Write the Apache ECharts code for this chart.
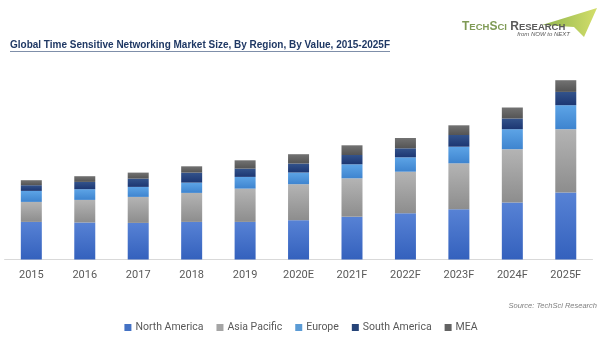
<!DOCTYPE html>
<html>
<head>
<meta charset="utf-8">
<script src="https://cdn.jsdelivr.net/npm/echarts@6/dist/echarts.min.js"></script>
<style>
html,body{margin:0;padding:0;background:#fff;}
#chart{width:602px;height:338px;}
</style>
</head>
<body>
<div id="chart"></div>
<script>
// Categories
var years = ['2015','2016','2017','2018','2019','2020E','2021F','2022F','2023F','2024F','2025F'];
// Series values (relative market size)
var northAmerica = [37.6, 37.0, 36.6, 37.6, 37.6, 39.3, 42.8, 46.2, 50.2, 57.0, 67.0];
var asiaPacific  = [20.0, 22.6, 26.0, 29.0, 33.3, 36.0, 38.4, 41.6, 46.0, 53.3, 63.3];
var europe       = [11.0, 10.7, 10.0, 10.3, 11.7, 11.7, 14.0, 14.4, 16.6, 20.0, 24.0];
var southAmerica = [5.7, 7.3, 8.3, 10.0, 8.3, 9.0, 9.3, 9.0, 11.7, 10.7, 13.3];
var mea          = [5.0, 5.7, 6.0, 6.3, 8.3, 9.3, 9.7, 10.3, 9.7, 11.0, 11.7];
var seriesNames = ['North America','Asia Pacific','Europe','South America','MEA'];
var titleText = 'Global Time Sensitive Networking Market Size, By Region, By Value, 2015-2025F';
var sourceText = 'Source: TechSci Research';

function grad(top, bottom){
  return new echarts.graphic.LinearGradient(0,0,0,1,[{offset:0,color:top},{offset:1,color:bottom}]);
}
// title: render at 10.5px and squeeze horizontally to the target width
var titleFont = 'Liberation Sans';
var titleSize = 10.5;
var cv = document.createElement('canvas').getContext('2d');
cv.font = 'bold ' + titleSize + 'px "' + titleFont + '"';
var titleScaleX = 380 / cv.measureText(titleText).width;

var solid = ['#4472c4','#a5a5a5','#5b9bd5','#264478','#636363'];
var fills = [grad('#5782d5','#3461bd'), grad('#b4b4b4','#8d8d8d'), grad('#5da4e6','#3e84cf'),
             grad('#33538b','#1c3672'), grad('#727272','#545454')];
var dataSets = [northAmerica, asiaPacific, europe, southAmerica, mea];

var chart = echarts.init(document.getElementById('chart'), null, {renderer:'canvas'});
var series = seriesNames.map(function(n,i){
  return {
    name:n, type:'bar', stack:'total', barWidth:21,
    itemStyle:{color:fills[i]},
    emphasis:{disabled:true},
    data:dataSets[i]
  };
});
chart.setOption({
  animation:false,
  backgroundColor:'#ffffff',
  grid:{left:4.6, right:9.5, top:79.5, bottom:78.5, containLabel:false},
  xAxis:{
    type:'category', data:years,
    axisTick:{show:false},
    axisLine:{lineStyle:{color:'#d9d9d9', width:1}},
    axisLabel:{color:'#595959', fontSize:11, fontFamily:'Roboto', margin:10}
  },
  yAxis:{type:'value', min:0, max:180, show:false, splitLine:{show:false}},
  legend:{
    left:'center', top:317, icon:'rect', itemWidth:7, itemHeight:7, itemGap:13,
    textStyle:{color:'#595959', fontSize:10.5, fontFamily:'Roboto', padding:[0,0,0,-1]},
    data:seriesNames.map(function(n,i){return {name:n, itemStyle:{color:solid[i]}};})
  },
  graphic:[
    {type:'polygon', z:1, shape:{points:[[542,25],[597,8],[584,37],[574,27]]},
     style:{fill:new echarts.graphic.LinearGradient(0,0,1,0,[{offset:0,color:'#8fb54e'},{offset:1,color:'#d3de6a'}])}},
    {type:'text', z:2, left:462, top:21, style:{
      text:'{g1|T}{g2|ECH}{g1|S}{g2|CI} {d1|R}{d2|ESEARCH}',
      rich:{
        g1:{fontSize:12, fontWeight:'bold', fill:'#7f9a55', fontFamily:'Liberation Sans'},
        g2:{fontSize:9.5, fontWeight:'bold', fill:'#7f9a55', fontFamily:'Liberation Sans'},
        d1:{fontSize:12, fontWeight:'bold', fill:'#5a5a5a', fontFamily:'Liberation Sans'},
        d2:{fontSize:9.5, fontWeight:'bold', fill:'#5a5a5a', fontFamily:'Liberation Sans'}
      }}},
    {type:'text', z:2, x:570, y:34, style:{text:'from NOW to NEXT', fontSize:6, fontStyle:'italic',
      fill:'#555555', fontFamily:'Liberation Sans', align:'right', verticalAlign:'middle'}},
    {type:'text', x:10, y:45, scaleX:titleScaleX, style:{text:titleText, fontSize:titleSize, fontWeight:'bold',
      fontFamily:titleFont, fill:'#1f3864', align:'left', verticalAlign:'middle'}},
    {type:'line', shape:{x1:10, y1:51.5, x2:390, y2:51.5}, style:{stroke:'#7f8fa9', lineWidth:1}},
    {type:'text', x:597, y:306, style:{text:sourceText, fontSize:7.5, fontStyle:'italic',
      fontFamily:'Liberation Sans', fill:'#7f7f7f', align:'right', verticalAlign:'middle'}}
  ],
  series:series
});
</script>
</body>
</html>
